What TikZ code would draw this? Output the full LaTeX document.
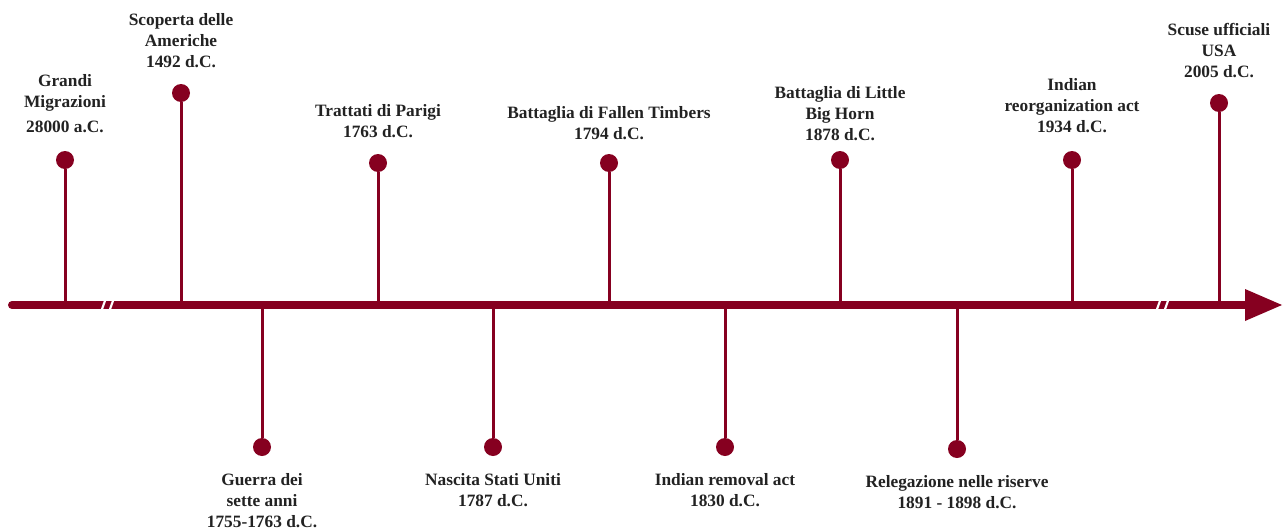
\documentclass[tikz,border=0pt]{standalone}
\usepackage{fontspec}
\setmainfont{Liberation Serif}
\usepackage{tikz}
\usetikzlibrary{positioning}
\definecolor{tlred}{RGB}{134,0,32}
\definecolor{tltext}{RGB}{34,34,34}

\tikzset{
  dot/.style={circle,fill=tlred,inner sep=0pt,minimum size=13.5pt},
  stem/.style={tlred,line width=2.25pt},
  lbl/.style={align=center,inner sep=0pt,text=tltext,font=\bfseries\fontsize{13}{15.75}\selectfont},
  gap/.style={white,line width=1.6pt}
}

\begin{document}
\begin{tikzpicture}[x=0.75pt,y=-0.75pt]
\useasboundingbox (0,0) rectangle (1283,532);

% asse
\draw[tlred,line width=6pt,line cap=round] (12,305) -- (1250,305);
\fill[tlred] (1245,289) -- (1282,305) -- (1245,321) -- cycle;
\foreach \b in {101,1156}{
    \draw[gap] (\b,312) -- (\b+5,298);
    \draw[gap] (\b+8,312) -- (\b+13,298);
}

% eventi sopra
\foreach \i/\x/\y/\d/\txt in {1/65/160/13/{Grandi\\Migrazioni\\[3pt]28000 a.C.},
    2/181/93/12/{Scoperta delle\\Americhe\\1492 d.C.},
    4/378/163/12/{Trattati di Parigi\\1763 d.C.},
    6/609/163/10/{Battaglia di Fallen Timbers\\1794 d.C.},
    8/840/160/7.5/{Battaglia di Little\\Big Horn\\1878 d.C.},
    10/1072/160/13.5/{Indian\\reorganization act\\1934 d.C.},
    11/1219/103/12/{Scuse ufficiali\\USA\\2005 d.C.}}{
    \coordinate (a\i) at (\x,305);
    \node[dot] (e\i) at (\x,\y) {};
    \node[lbl,above=\d pt of e\i] (t\i) {\txt};
    \draw[stem] (e\i) -- (a\i);
}

% eventi sotto
\foreach \i/\x/\y/\txt in {3/262/447/{Guerra dei\\sette anni\\1755-1763 d.C.},
    5/493/447/{Nascita Stati Uniti\\1787 d.C.},
    7/725/447/{Indian removal act\\1830 d.C.},
    9/957/449/{Relegazione nelle riserve\\1891 - 1898 d.C.}}{
    \coordinate (a\i) at (\x,305);
    \node[dot] (e\i) at (\x,\y) {};
    \node[lbl,below=12.5pt of e\i] (t\i) {\txt};
    \draw[stem] (e\i) -- (a\i);
}

\end{tikzpicture}
\end{document}
